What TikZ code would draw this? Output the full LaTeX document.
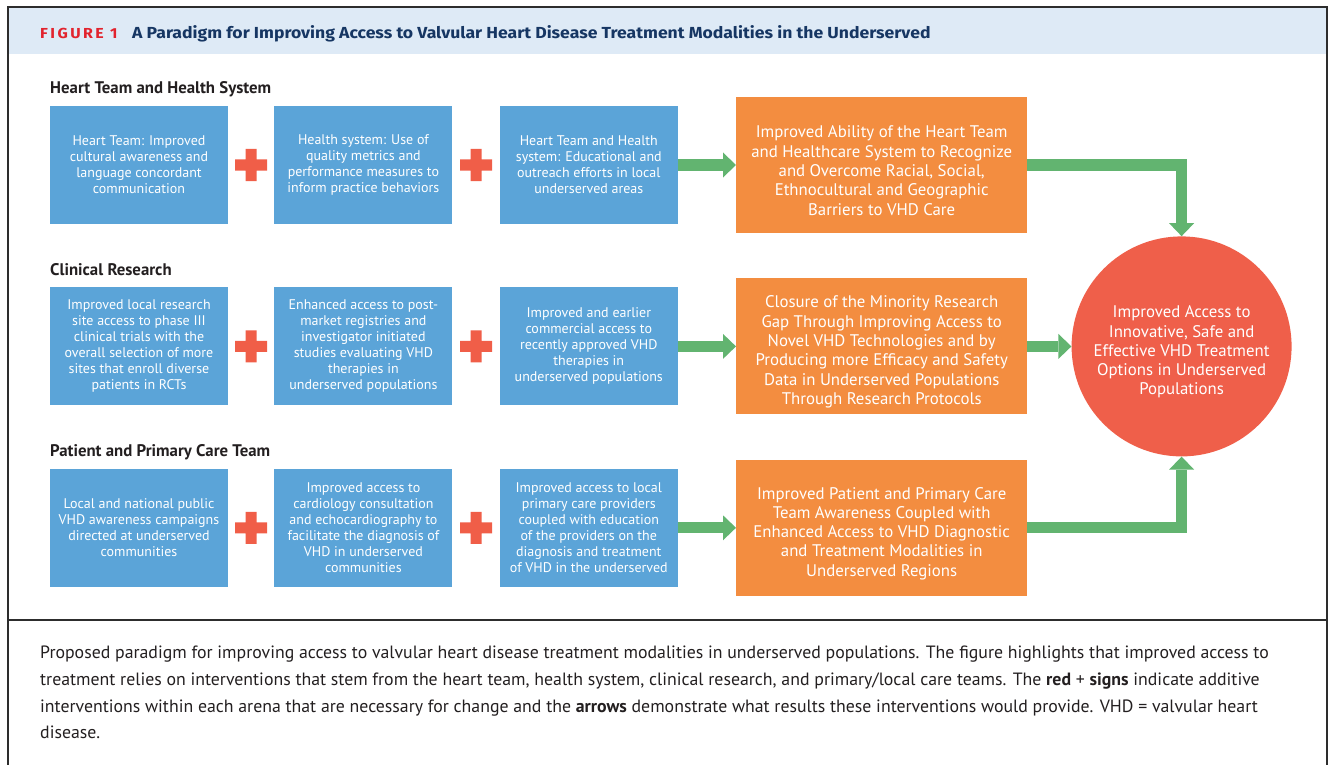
\documentclass[tikz,border=0pt]{standalone}
\usepackage{fontspec}
\setmainfont{PT Sans}
\newfontfamily\titlefont{Fira Sans}[FakeStretch=1.1]
\newfontfamily\figfont{Fira Sans Bold}[FakeStretch=1.1,LetterSpace=17]
\usepackage{tikz}
\usetikzlibrary{
  arrows.meta,
  positioning
}
\definecolor{actblue}{RGB}{91,164,216}
\definecolor{resorange}{RGB}{243,141,64}
\definecolor{goalred}{RGB}{239,95,74}
\definecolor{flowgreen}{RGB}{98,180,112}
\definecolor{plusred}{RGB}{240,94,72}
\definecolor{headband}{RGB}{222,234,246}
\definecolor{titlenavy}{RGB}{22,54,99}
\definecolor{figred}{RGB}{226,35,45}
\definecolor{framegray}{RGB}{45,45,45}
\definecolor{inkblack}{RGB}{35,31,32}
\tikzset{
  action/.style={fill=actblue,text=white,align=center,
    minimum width=178pt,minimum height=118pt,inner sep=2pt,
    font=\fontsize{14}{16}\selectfont},
  % text height pushes the (bottom-based) text block a little lower
  result/.style={fill=resorange,text=white,align=center,
    minimum width=291pt,minimum height=136pt,inner sep=2pt,
    text height=100.4pt,font=\fontsize{16.8}{19.3}\selectfont},
  goal/.style={circle,fill=goalred,text=white,align=center,
    minimum size=220pt,inner sep=0pt,
    text height=100.4pt,font=\fontsize{16.8}{19.3}\selectfont},
  flow/.style={-{Triangle[length=13pt,width=25pt,line width=0pt]},
    line width=11pt,draw=flowgreen},
  arena/.style={anchor=base west,inner sep=0pt,text=inkblack,
    font=\fontsize{16.8}{18}\selectfont\bfseries},
  addsign/.style={fill=plusred},
  frame/.style={draw=framegray,line width=2pt}
}

\begin{document}
\begin{tikzpicture}[x=1pt,y=1pt,node distance=63pt and 46pt]
  \useasboundingbox (0,0) rectangle (1336,-765);
  % header band and outer frames
  \fill[headband] (8,-8) rectangle (1327,-54);
  \draw[frame] (8,-7.5) rectangle (1327,-620);
  \draw[frame] (8,-620) -- (8,-780) (1327,-620) -- (1327,-780);
  \node[anchor=base west,inner sep=0pt,text=figred,font=\figfont\fontsize{14.5}{16}\selectfont]
    (fig) at (40,-39) {FIGURE 1};
  \node[anchor=base west,inner sep=0pt,text=titlenavy,font=\titlefont\fontsize{16}{18}\selectfont\bfseries]
    (title) at (132,-39) {A Paradigm for Improving Access to Valvular Heart Disease Treatment Modalities in the Underserved};

  % arena labels
  \node[arena] (lab1) at (50,-94) {Heart Team and Health System};
  \node[arena] (lab2) at (50,-275) {Clinical Research};
  \node[arena] (lab3) at (50,-456) {Patient and Primary Care Team};

  % interventions
  \node[action] (a11) at (139,-165) {Heart Team: Improved\\cultural awareness and\\language concordant\\communication};
  \node[action,right=of a11] (a12) {Health system: Use of\\quality metrics and\\performance measures to\\inform practice behaviors};
  \node[action,right=47pt of a12] (a13) {Heart Team and Health\\system: Educational and\\outreach efforts in local\\underserved areas};
  \node[action,below=of a11] (a21) {Improved local research\\site access to phase III\\clinical trials with the\\overall selection of more\\sites that enroll diverse\\patients in RCTs};
  \node[action,right=of a21] (a22) {Enhanced access to post-\\market registries and\\investigator initiated\\studies evaluating VHD\\therapies in\\underserved populations};
  \node[action,right=47pt of a22] (a23) {Improved and earlier\\commercial access to\\recently approved VHD\\therapies in\\underserved populations};
  \node[action,below=of a21] (a31) {Local and national public\\VHD awareness campaigns\\directed at underserved\\communities};
  \node[action,right=of a31] (a32) {Improved access to\\cardiology consultation\\and echocardiography to\\facilitate the diagnosis of\\VHD in underserved\\communities};
  \node[action,right=47pt of a32] (a33) {Improved access to local\\primary care providers\\coupled with education\\of the providers on the\\diagnosis and treatment\\of VHD in the underserved};

  % red plus signs between the interventions
  \foreach \r in {1,2,3} {
    \foreach \c/\d in {1/2,2/3} {
      \path (a\r\c) -- coordinate[midway] (p\r\c) (a\r\d);
      \fill[addsign] (p\r\c) +(-16,-5.5) rectangle +(16,5.5)
        (p\r\c) +(-5.5,-16) rectangle +(5.5,16);
    }
  }

  % results
  \node[result,right=58pt of a13] (o1) {Improved Ability of the Heart Team\\and Healthcare System to Recognize\\and Overcome Racial, Social,\\Ethnocultural and Geographic\\Barriers to VHD Care};
  \node[result,text height=119.7pt,right=58pt of a23] (o2) {Closure of the Minority Research\\Gap Through Improving Access to\\Novel VHD Technologies and by\\Producing more Efficacy and Safety\\Data in Underserved Populations\\Through Research Protocols};
  \node[result,right=58pt of a33] (o3) {Improved Patient and Primary Care\\Team Awareness Coupled with\\Enhanced Access to VHD Diagnostic\\and Treatment Modalities in\\Underserved Regions};

  \node[goal,right=44pt of o2] (goal) {Improved Access to\\Innovative, Safe and\\Effective VHD Treatment\\Options in Underserved\\Populations};

  \draw[flow] (a13) -- (o1);
  \draw[flow] (a23) -- (o2);
  \draw[flow] (a33) -- (o3);
  \draw[flow] (o1.east) -| (goal.north);
  \draw[flow] (o2) -- (goal);
  \draw[flow] (o3.east) -| (goal.south);

  % legend text
  \node[anchor=north west,inner sep=0pt,align=left,text=inkblack,
    font=\fontsize{17.8}{26.7}\selectfont] (caption) at (40,-646) {Proposed paradigm for improving access to valvular heart disease treatment modalities in underserved populations. The figure highlights that improved access to\\
treatment relies on interventions that stem from the heart team, health system, clinical research, and primary/local care teams. The \textbf{red} + \textbf{signs} indicate additive\\
interventions within each arena that are necessary for change and the \textbf{arrows} demonstrate what results these interventions would provide. VHD = valvular heart\\
disease.};
\end{tikzpicture}
\end{document}
